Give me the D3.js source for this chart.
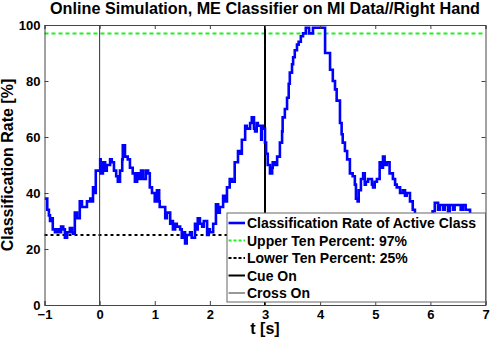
<!DOCTYPE html>
<html>
<head>
<meta charset="utf-8">
<script src="https://cdn.jsdelivr.net/npm/d3@7"></script>
<style>
  body { margin: 0; background: #fff; }
  text { font-family: "Liberation Sans", Arial, sans-serif; font-weight: bold; }
</style>
</head>
<body>
<div id="viz"></div>
<script>
var width = 490;
var height = 338;
var margin = {top: 25, right: 4.5, bottom: 33, left: 44.5};

// classification rate of the active class
var times = [-1.00, -0.95, -0.92, -0.90, -0.86, -0.85, -0.81, -0.77, -0.74, -0.70,
  -0.66, -0.63, -0.59, -0.54, -0.50, -0.48, -0.45, -0.41, -0.36, -0.32,
  -0.27, -0.23, -0.17, -0.14, -0.12, -0.08, -0.07, -0.01, 0.01, 0.02,
  0.06, 0.10, 0.13, 0.19, 0.22, 0.26, 0.30, 0.33, 0.37, 0.41,
  0.42, 0.46, 0.51, 0.55, 0.60, 0.64, 0.68, 0.71, 0.75, 0.79,
  0.84, 0.88, 0.91, 0.95, 1.00, 1.04, 1.08, 1.09, 1.13, 1.19,
  1.22, 1.28, 1.31, 1.33, 1.37, 1.40, 1.46, 1.49, 1.53, 1.55,
  1.58, 1.64, 1.67, 1.73, 1.77, 1.78, 1.82, 1.86, 1.89, 1.95,
  1.98, 2.00, 2.06, 2.11, 2.15, 2.18, 2.24, 2.27, 2.31, 2.36,
  2.40, 2.45, 2.51, 2.54, 2.58, 2.64, 2.67, 2.73, 2.76, 2.80,
  2.82, 2.85, 2.87, 2.93, 2.94, 2.96, 3.00, 3.02, 3.05, 3.09,
  3.13, 3.14, 3.18, 3.22, 3.27, 3.31, 3.32, 3.36, 3.40, 3.43,
  3.45, 3.49, 3.51, 3.54, 3.58, 3.61, 3.65, 3.69, 3.74, 3.80,
  3.83, 3.87, 4.05, 4.09, 4.14, 4.18, 4.23, 4.27, 4.30, 4.36,
  4.39, 4.41, 4.45, 4.49, 4.54, 4.59, 4.63, 4.65, 4.68, 4.70,
  4.74, 4.78, 4.81, 4.83, 4.87, 4.90, 4.94, 4.96, 4.99, 5.03,
  5.08, 5.12, 5.14, 5.17, 5.21, 5.26, 5.32, 5.36, 5.39, 5.45,
  5.50, 5.54, 5.57, 5.63, 5.68, 5.72, 5.77, 5.85, 5.92, 5.99,
  6.04, 6.08, 6.14, 6.17, 6.23, 6.26, 6.32, 6.35, 6.41, 6.44,
  6.50, 6.55, 6.59, 6.64, 6.68, 6.72, 6.79, 6.86, 6.93, 6.97, 7.00];
var rates = [38, 34, 32, 30, 31, 27, 26, 27, 26, 28,
  27, 24, 26, 27.5, 26, 25.5, 33, 31, 37, 35,
  35, 37, 38, 37, 42, 40, 48, 48, 52, 47,
  51, 48, 50, 52, 51, 48, 46, 44, 48, 52,
  57, 53, 52, 49, 47, 44, 47, 45, 48, 45,
  48, 47, 42, 40, 37, 41, 37, 35, 35, 31,
  33, 29, 30, 27, 29, 28, 27, 24, 26, 22,
  25, 26, 24, 29, 27, 31, 29, 28, 30, 25,
  27, 26, 29, 36, 33, 35, 39, 37, 42, 45,
  44, 51, 55, 54, 59, 64, 63, 65, 67, 63,
  62, 65, 64, 59, 64, 63, 58, 54, 50, 47,
  49, 51, 50, 53, 58, 62, 67, 70, 74, 79,
  83, 86, 88.5, 91, 93, 94, 96, 97, 99, 97,
  97, 99, 99, 90, 90, 84, 80, 77, 73, 65,
  61, 58, 55, 52, 47, 46, 43, 38, 37, 41,
  45, 47, 43, 44, 45, 45, 43, 42, 44, 45,
  51, 49, 53, 50, 51, 47, 45, 43, 42, 40,
  41, 39, 40, 37, 34, 31, 29, 28, 30, 32,
  33.5, 36.5, 34, 35.7, 34, 35.7, 33.5, 35.7, 34, 35.7,
  35.7, 34, 35.7, 34, 34, 32, 29, 27, 25, 24, 24];

var upperTen = 97;
var lowerTen = 25;
var cueOn = 3;
var crossOn = 0;

var xTicks = [-1, 0, 1, 2, 3, 4, 5, 6, 7];
var yTicks = [0, 20, 40, 60, 80, 100];

var legendLabels = ['Classification Rate of Active Class', 'Upper Ten Percent: 97%',
  'Lower Ten Percent: 25%', 'Cue On', 'Cross On'];

var plotW = width - margin.left - margin.right;
var plotH = height - margin.top - margin.bottom;

var x = d3.scaleLinear().domain([-1, 7]).range([0, plotW]);
var y = d3.scaleLinear().domain([0, 100]).range([plotH, 0]);

var svg = d3.select('#viz').append('svg')
  .attr('width', width)
  .attr('height', height);

var g = svg.append('g')
  .attr('transform', 'translate(' + margin.left + ',' + margin.top + ')');

g.append('clipPath').attr('id', 'clip')
  .append('rect').attr('width', plotW).attr('height', plotH);

var styles = [
  {stroke: '#0000ff', width: 2.6, dash: null},
  {stroke: '#22ee22', width: 2, dash: '4,3'},
  {stroke: '#000', width: 2, dash: '3,3'},
  {stroke: '#000', width: 2, dash: null},
  {stroke: '#333', width: 1, dash: null}
];

// reference lines
g.append('line')
  .attr('x1', 0).attr('x2', plotW)
  .attr('y1', y(upperTen)).attr('y2', y(upperTen))
  .attr('stroke', styles[1].stroke).attr('stroke-width', styles[1].width)
  .attr('stroke-dasharray', styles[1].dash);

g.append('line')
  .attr('x1', 0).attr('x2', plotW)
  .attr('y1', y(lowerTen)).attr('y2', y(lowerTen))
  .attr('stroke', styles[2].stroke).attr('stroke-width', styles[2].width)
  .attr('stroke-dasharray', styles[2].dash);

g.append('line')
  .attr('x1', x(cueOn)).attr('x2', x(cueOn))
  .attr('y1', 0).attr('y2', plotH)
  .attr('stroke', styles[3].stroke).attr('stroke-width', styles[3].width);

g.append('line')
  .attr('x1', x(crossOn)).attr('x2', x(crossOn))
  .attr('y1', 0).attr('y2', plotH)
  .attr('stroke', styles[4].stroke).attr('stroke-width', styles[4].width);

// the rate trace
var line = d3.line()
  .x(function(d, i) { return x(times[i]); })
  .y(function(d) { return y(d); })
  .curve(d3.curveStepAfter);

g.append('path')
  .datum(rates)
  .attr('clip-path', 'url(#clip)')
  .attr('d', line)
  .attr('fill', 'none')
  .attr('stroke', styles[0].stroke)
  .attr('stroke-width', styles[0].width)
  .attr('stroke-linejoin', 'miter');

// axes with inward ticks on all sides
g.append('g')
  .attr('transform', 'translate(0,' + plotH + ')')
  .call(d3.axisBottom(x).tickValues(xTicks).tickSize(-4).tickPadding(5).tickFormat(d3.format('d')));
g.append('g')
  .call(d3.axisTop(x).tickValues(xTicks).tickSize(-4).tickFormat(''));
g.append('g')
  .call(d3.axisLeft(y).tickValues(yTicks).tickSize(-4).tickPadding(4));
g.append('g')
  .attr('transform', 'translate(' + plotW + ',0)')
  .call(d3.axisRight(y).tickValues(yTicks).tickSize(-4).tickFormat(''));

g.selectAll('.domain').attr('stroke', '#444');
g.selectAll('.tick line').attr('stroke', '#444');
g.selectAll('.tick text').attr('font-size', 13).attr('fill', '#000')
  .style('font-family', '"Liberation Sans", Arial, sans-serif').style('font-weight', 'bold');

// legend
var legX = 227 - margin.left;
var legY = 213 - margin.top;
var legend = g.append('g').attr('transform', 'translate(' + legX + ',' + legY + ')');
legend.append('rect')
  .attr('width', plotW - legX).attr('height', 89)
  .attr('fill', '#fff').attr('stroke', '#666').attr('stroke-width', 1);

legendLabels.forEach(function(label, i) {
  var cy = 10 + i * 17.5;
  legend.append('line')
    .attr('x1', 1.5).attr('x2', 18)
    .attr('y1', cy).attr('y2', cy)
    .attr('stroke', styles[i].stroke).attr('stroke-width', styles[i].width)
    .attr('stroke-dasharray', i === 1 || i === 2 ? '3,2' : null);
  legend.append('text')
    .attr('x', 20).attr('y', cy + 5)
    .attr('font-size', 14)
    .text(label);
});

// titles
svg.append('text')
  .attr('x', margin.left + plotW / 2).attr('y', 14)
  .attr('text-anchor', 'middle').attr('font-size', 16.2)
  .text('Online Simulation, ME Classifier on MI Data//Right Hand');

svg.append('text')
  .attr('x', margin.left + plotW / 2).attr('y', 334)
  .attr('text-anchor', 'middle').attr('font-size', 16)
  .text('t [s]');

svg.append('text')
  .attr('transform', 'translate(13,' + (margin.top + plotH / 2) + ') rotate(-90)')
  .attr('text-anchor', 'middle').attr('font-size', 16)
  .text('Classification Rate [%]');
</script>
</body>
</html>
